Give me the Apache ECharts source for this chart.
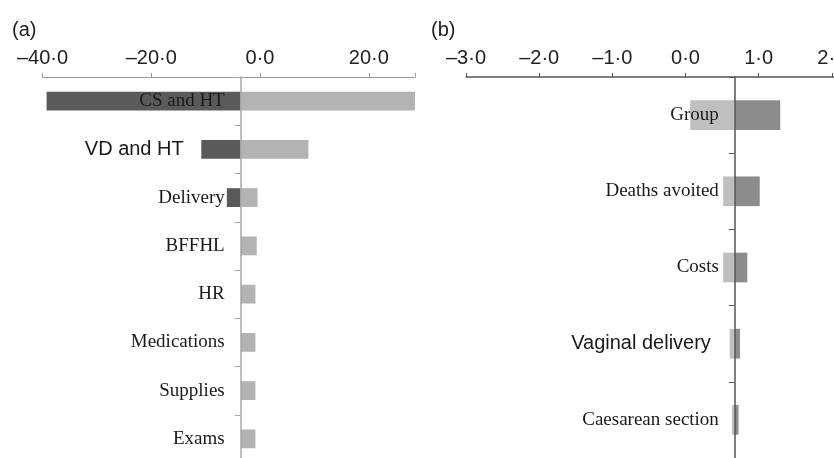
<!DOCTYPE html>
<html>
<head>
<meta charset="utf-8">
<script src="https://cdn.jsdelivr.net/npm/echarts@6/dist/echarts.min.js"></script>
<style>
  html, body { margin: 0; padding: 0; background: #fff; }
  #main { width: 834px; height: 458px; }
</style>
</head>
<body>
<div id="main"></div>
<script type="text/javascript">
  // panel (a)
  var catsA = ['CS and HT', 'VD and HT', 'Delivery', 'BFFHL', 'HR', 'Medications', 'Supplies', 'Exams'];
  var baseA = -3.55;
  var lowA = [-39.25, -10.8, -6.1, null, null, null, null, null];
  var highA = [28.5, 8.9, -0.45, -0.6, -0.85, -0.85, -0.85, -0.85];
  var ticksA = [-40, -20, 0, 20];

  // panel (b)
  var catsB = ['Group', 'Deaths avoited', 'Costs', 'Vaginal delivery', 'Caesarean section'];
  var baseB = 0.675;
  var lowB = [0.065, 0.515, 0.515, 0.605, 0.635];
  var highB = [1.295, 1.015, 0.845, 0.745, 0.725];
  var ticksB = [-3, -2, -1, 0, 1, 2];

  var chart = echarts.init(document.getElementById('main'));

  function toItems(vals, base) {
    var out = [];
    vals.forEach(function (v, i) {
      if (v !== null) out.push([i, base, v]);
    });
    return out;
  }

  function barRenderer(color) {
    return function (params, api) {
      var cat = api.value(0);
      var p0 = api.coord([api.value(1), cat]);
      var p1 = api.coord([api.value(2), cat]);
      var h = api.size([0, 1])[1] * 0.39;
      return {
        type: 'rect',
        shape: {
          x: Math.min(p0[0], p1[0]),
          y: p0[1] - h / 2,
          width: Math.abs(p1[0] - p0[0]),
          height: h
        },
        style: { fill: color }
      };
    };
  }

  function tickFmt(ticks) {
    return function (v) {
      var hit = ticks.some(function (t) { return Math.abs(t - v) < 1e-6; });
      if (!hit) return '';
      return (v < 0 ? '\u2013' : '') + Math.abs(v).toFixed(1).replace('.', '\u00b7');
    };
  }

  // a couple of labels use a sans font in the original
  function catFmt(v) {
    if (v === 'VD and HT') return '{sa|' + v + '}';
    if (v === 'Vaginal delivery') return '{sb|' + v + '}';
    return '{t|' + v + '}';
  }

  var catRich = {
    t: { fontFamily: '"Liberation Serif", serif', fontSize: 19, color: '#1a1a1a' },
    sa: { fontFamily: '"Liberation Sans", sans-serif', fontSize: 20, color: '#1a1a1a', padding: [0, 41, 0, 0] },
    sb: { fontFamily: '"Liberation Sans", sans-serif', fontSize: 20, color: '#1a1a1a', padding: [0, 8, 0, 0] }
  };

  var option = {
    animation: false,
    backgroundColor: '#fff',
    title: [
      { text: '(a)', left: 7, top: 15, textStyle: { fontFamily: '"Liberation Sans", sans-serif', fontSize: 20, fontWeight: 'normal', color: '#222' } },
      { text: '(b)', left: 426, top: 15, textStyle: { fontFamily: '"Liberation Sans", sans-serif', fontSize: 20, fontWeight: 'normal', color: '#222' } }
    ],
    grid: [
      { left: 42.5, top: 77, width: 372.5, height: 386, outerBoundsMode: 'none', containLabel: false },
      { left: 466, top: 77, width: 368, height: 381, outerBoundsMode: 'none', containLabel: false }
    ],
    xAxis: [
      {
        gridIndex: 0, type: 'value', position: 'top',
        min: -40, max: 28.5, interval: 20,
        splitLine: { show: false },
        axisLine: { show: true, lineStyle: { color: '#9a9a9a', width: 1 } },
        axisTick: { show: true, length: 4, lineStyle: { color: '#9a9a9a' } },
        axisLabel: { formatter: tickFmt(ticksA), margin: 9, fontFamily: '"Liberation Sans", sans-serif', fontSize: 20, color: '#222' }
      },
      {
        gridIndex: 1, type: 'value', position: 'top',
        min: -3, max: 2.03, interval: 1,
        splitLine: { show: false },
        axisLine: { show: true, lineStyle: { color: '#555', width: 1.5 } },
        axisTick: { show: true, length: 4, lineStyle: { color: '#555' } },
        axisLabel: { formatter: tickFmt(ticksB), margin: 9, fontFamily: '"Liberation Sans", sans-serif', fontSize: 20, color: '#222' }
      }
    ],
    yAxis: [
      {
        gridIndex: 0, type: 'category', inverse: true, data: catsA, z: 5,
        axisLine: { show: true, lineStyle: { color: '#a8a8a8', width: 1.5 } },
        axisTick: { show: true, length: 6, lineStyle: { color: '#a8a8a8' } },
        axisLabel: { formatter: catFmt, rich: catRich, margin: 16 }
      },
      {
        gridIndex: 1, type: 'category', inverse: true, data: catsB, z: 5,
        axisLine: { show: true, lineStyle: { color: '#555', width: 1.5 } },
        axisTick: { show: true, length: 6, lineStyle: { color: '#555' } },
        axisLabel: { formatter: catFmt, rich: catRich, margin: 16 }
      }
    ],
    series: [
      {
        name: 'a low', type: 'custom', xAxisIndex: 0, yAxisIndex: 0,
        renderItem: barRenderer('#5a5a5a'),
        encode: { x: [1, 2], y: 0 },
        data: toItems(lowA, baseA)
      },
      {
        name: 'a high', type: 'custom', xAxisIndex: 0, yAxisIndex: 0,
        renderItem: barRenderer('#b3b3b3'),
        encode: { x: [1, 2], y: 0 },
        data: toItems(highA, baseA)
      },
      {
        name: 'b low', type: 'custom', xAxisIndex: 1, yAxisIndex: 1,
        renderItem: barRenderer('#bfbfbf'),
        encode: { x: [1, 2], y: 0 },
        data: toItems(lowB, baseB)
      },
      {
        name: 'b high', type: 'custom', xAxisIndex: 1, yAxisIndex: 1,
        renderItem: barRenderer('#8c8c8c'),
        encode: { x: [1, 2], y: 0 },
        data: toItems(highB, baseB)
      }
    ]
  };

  chart.setOption(option);

  // put each vertical axis at its base value
  var pxA = chart.convertToPixel({ xAxisIndex: 0 }, baseA);
  var pxB = chart.convertToPixel({ xAxisIndex: 1 }, baseB);
  chart.setOption({
    yAxis: [
      { offset: -(pxA - option.grid[0].left) },
      { offset: -(pxB - option.grid[1].left) }
    ]
  });
</script>
</body>
</html>
